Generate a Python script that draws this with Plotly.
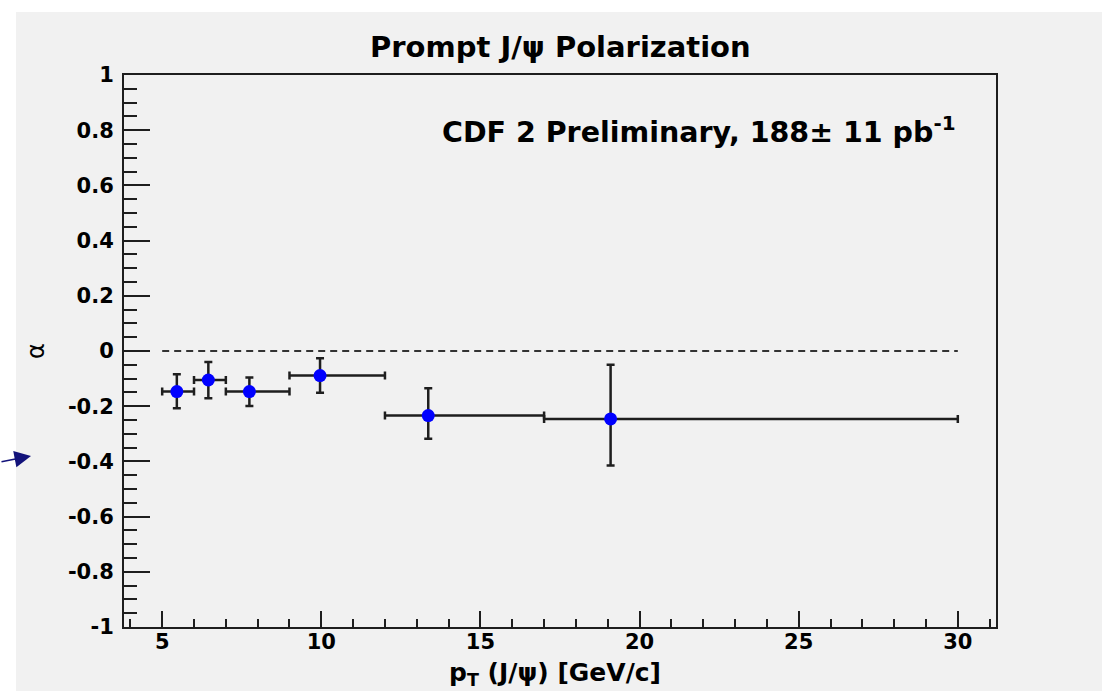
import plotly.graph_objects as go

# ---- data ----
pt_mean = [5.46, 6.45, 7.74, 9.96, 13.36, 19.09]
bin_lo = [5, 6, 7, 9, 12, 17]
bin_hi = [6, 7, 9, 12, 17, 30]
alpha = [-0.147, -0.105, -0.147, -0.089, -0.234, -0.246]
err_up = [0.063, 0.065, 0.051, 0.063, 0.099, 0.196]
err_dn = [0.060, 0.066, 0.052, 0.062, 0.084, 0.169]

zero_x = [5, 30]
zero_y = [0, 0]

y_ticks = [-1, -0.8, -0.6, -0.4, -0.2, 0, 0.2, 0.4, 0.6, 0.8, 1]
y_ticktext = ["-1", "-0.8", "-0.6", "-0.4", "-0.2", "0", "0.2", "0.4", "0.6", "0.8", "1"]
x_ticks = [5, 10, 15, 20, 25, 30]
x_ticktext = ["5", "10", "15", "20", "25", "30"]

x_err_plus = [h - m for h, m in zip(bin_hi, pt_mean)]
x_err_minus = [m - l for m, l in zip(pt_mean, bin_lo)]

FONT = "DejaVu Sans"
INK = "#1e1e1e"
PANEL = "#f1f1f1"

W, H = 1106, 691
L, R, T, B = 124, 110, 75, 64
PW, PH = W - L - R, H - T - B


def px(xp):
    return (xp - L) / PW


def py(yp):
    return (H - B - yp) / PH


fig = go.Figure()

fig.add_trace(go.Scatter(
    x=zero_x, y=zero_y, mode="lines",
    line=dict(color="#333333", width=2, dash="7px,5px"),
    hoverinfo="skip", showlegend=False,
))

fig.add_trace(go.Scatter(
    x=pt_mean, y=alpha, mode="markers",
    marker=dict(color="#0000ff", size=13, line=dict(width=0)),
    error_x=dict(type="data", symmetric=False, array=x_err_plus,
                 arrayminus=x_err_minus, color=INK, thickness=2.5, width=4),
    error_y=dict(type="data", symmetric=False, array=err_up,
                 arrayminus=err_dn, color=INK, thickness=2.5, width=4),
    showlegend=False,
))

# grey panel behind everything
fig.add_shape(type="rect", xref="paper", yref="paper",
              x0=px(16), x1=px(1102), y0=py(H + 20), y1=py(12),
              fillcolor=PANEL, line=dict(width=0), layer="below")

tickfont = dict(family=FONT, size=21, color="black", weight="bold")

fig.update_xaxes(
    range=[3.8, 31.2], tickmode="array", tickvals=x_ticks, ticktext=x_ticktext,
    ticks="inside", ticklen=16, tickwidth=2, tickcolor=INK,
    minor=dict(dtick=1, tick0=0, ticks="inside", ticklen=8, tickwidth=2, tickcolor=INK),
    showline=True, linewidth=2, linecolor=INK, mirror=True,
    showgrid=False, zeroline=False, tickfont=tickfont, ticklabelstandoff=-5,
)
fig.update_yaxes(
    range=[-1, 1], tickmode="array", tickvals=y_ticks, ticktext=y_ticktext,
    ticks="inside", ticklen=26, tickwidth=2, tickcolor=INK,
    minor=dict(dtick=0.05, tick0=0, ticks="inside", ticklen=13, tickwidth=2, tickcolor=INK),
    showline=True, linewidth=2, linecolor=INK, mirror=True,
    showgrid=False, zeroline=False, tickfont=tickfont, ticklabelstandoff=4,
)

annots = [
    dict(text="Prompt J/ψ Polarization", x=px(560), y=py(47),
         font=dict(family=FONT, size=29, color="black", weight="bold")),
    dict(text="CDF 2 Preliminary, 188± 11 pb<sup>-1</sup>", x=px(958), y=py(130),
         xanchor="right",
         font=dict(family=FONT, size=28.5, color="black", weight="bold")),
    dict(text="p<sub>T</sub> (J/ψ) [GeV/c]", x=px(555), y=py(674),
         font=dict(family=FONT, size=25, color="black", weight="bold")),
    dict(text="α", x=px(36), y=py(351), textangle=-90,
         font=dict(family=FONT, size=24, color="black")),
]
for a in annots:
    base = dict(xref="paper", yref="paper", showarrow=False,
                xanchor="center", yanchor="middle")
    base.update(a)
    fig.add_annotation(**base)

# navy pointer arrow at the left edge
fig.add_annotation(xref="paper", yref="paper", x=px(31), y=py(456),
                   ax=-31, ay=6, text="", showarrow=True,
                   arrowhead=2, arrowsize=2.2, arrowwidth=1.5, arrowcolor="#12127a")

fig.update_layout(
    width=W, height=H,
    margin=dict(l=L, r=R, t=T, b=B),
    paper_bgcolor="white", plot_bgcolor=PANEL,
    font=dict(family=FONT),
)

fig.write_html("out.html",
               config={"displayModeBar": False},
               post_script="document.body.style.margin='0px';"
                           "document.body.style.overflow='hidden';")
